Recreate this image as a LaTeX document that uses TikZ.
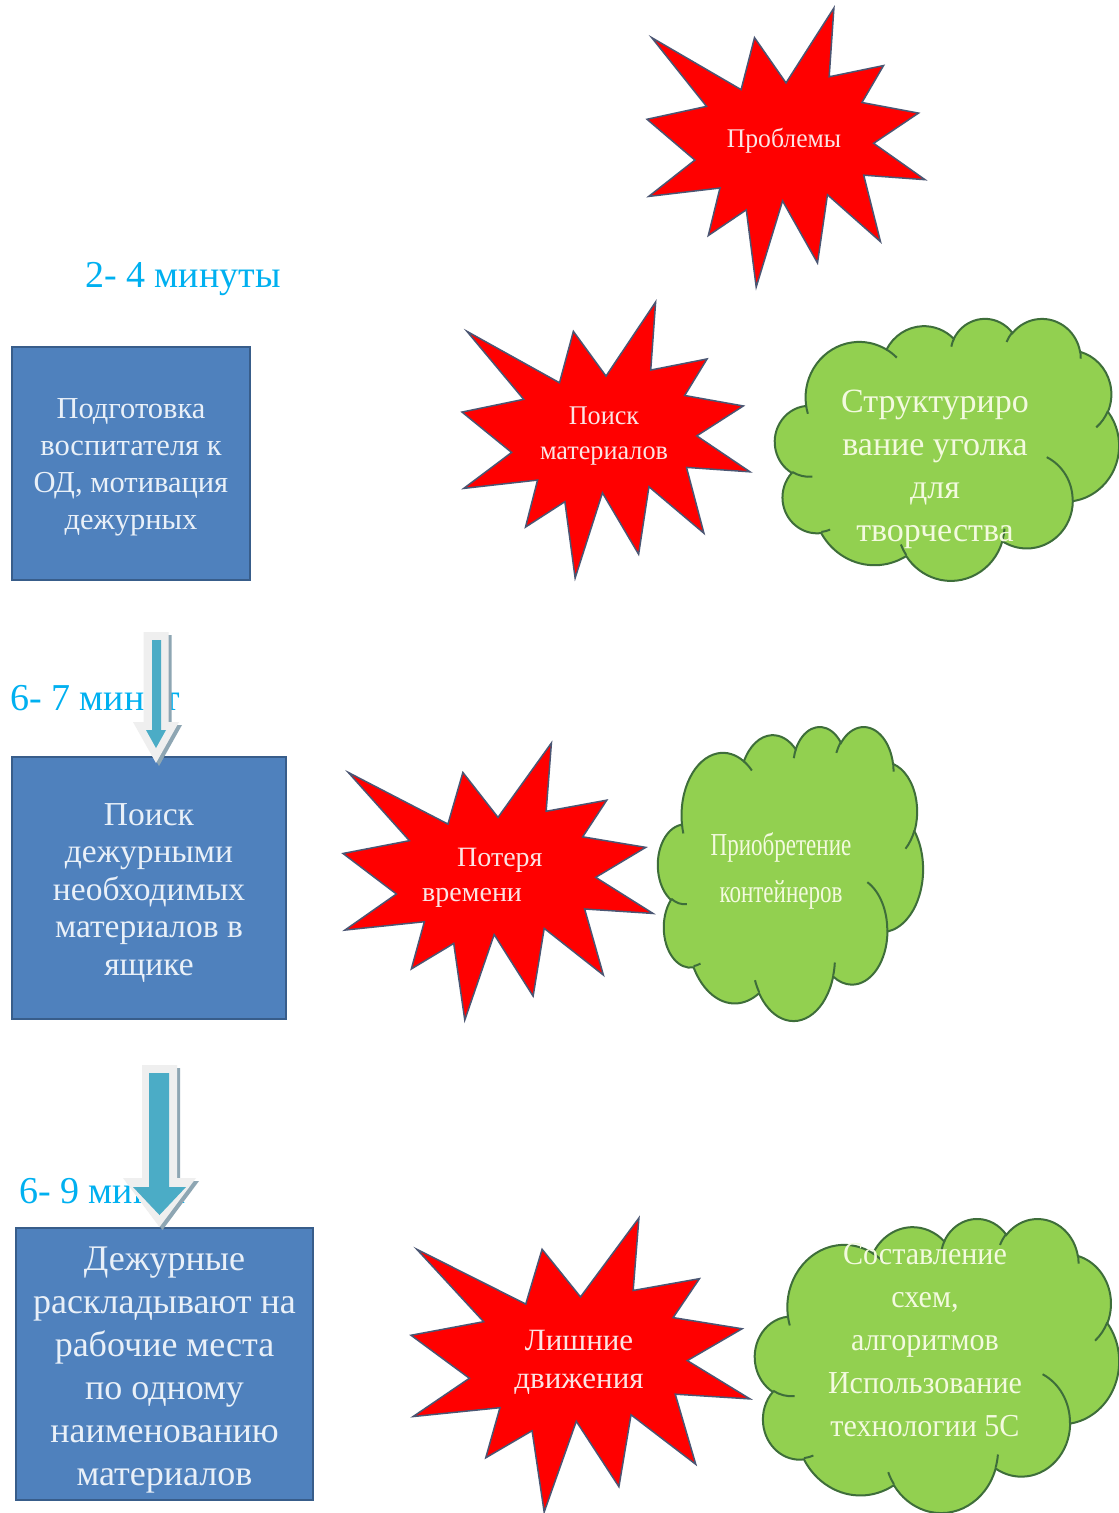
\documentclass[tikz,border=0pt]{standalone}
\usepackage{fontspec}
\setmainfont{Liberation Serif}
\definecolor{boxfill}{HTML}{4F81BD}
\definecolor{boxline}{HTML}{385D8A}
\definecolor{boxtext}{HTML}{E9F0F8}
\definecolor{starfill}{HTML}{FF0000}
\definecolor{starline}{HTML}{4A5673}
\definecolor{startext}{HTML}{FCE4E4}
\definecolor{cloudfill}{HTML}{92D050}
\definecolor{cloudline}{HTML}{3E6E3A}
\definecolor{cloudtext}{HTML}{F3FADF}
\definecolor{lblcol}{HTML}{00B0F0}
\definecolor{arrfill}{HTML}{4BACC6}
\definecolor{arrband}{HTML}{EFEFEF}
\definecolor{arrshadow}{HTML}{8EA6B3}
\makeatletter
\newcommand\cldpar[4]{%
  \pgfmathparse{atan2((#2)*sin(#4),(#3)*cos(#4))}%
  \let\cld@t\pgfmathresult
  \pgfmathparse{\cld@t+360*round(((#4)-\cld@t)/360)}%
  \expandafter\xdef\csname #1\endcsname{\pgfmathresult}}
\makeatother
\newcommand\explosion[4]{%
 \filldraw[starshape] ({#1+0.5*#3},{#2+0.2685*#4}) -- ({#1+0.6723*#3},{#2}) -- ({#1+0.6553*#3},{#2+0.2465*#4})
 -- ({#1+0.8509*#3},{#2+0.2063*#4}) -- ({#1+0.7732*#3},{#2+0.3387*#4}) -- ({#1+0.9767*#3},{#2+0.3767*#4})
 -- ({#1+0.8151*#3},{#2+0.4850*#4}) -- ({#1+#3},{#2+0.6153*#4}) -- ({#1+0.7795*#3},{#2+0.5992*#4})
 -- ({#1+0.8400*#3},{#2+0.8377*#4}) -- ({#1+0.6491*#3},{#2+0.6693*#4}) -- ({#1+0.6133*#3},{#2+0.9138*#4})
 -- ({#1+0.4876*#3},{#2+0.6914*#4}) -- ({#1+0.3928*#3},{#2+#4}) -- ({#1+0.3572*#3},{#2+0.7235*#4})
 -- ({#1+0.2205*#3},{#2+0.8156*#4}) -- ({#1+0.2624*#3},{#2+0.6452*#4}) -- ({#1+0.00625*#3},{#2+0.6753*#4})
 -- ({#1+0.1723*#3},{#2+0.5451*#4}) -- ({#1},{#2+0.3988*#4}) -- ({#1+0.2142*#3},{#2+0.3526*#4})
 -- ({#1+0.0171*#3},{#2+0.1063*#4}) -- ({#1+0.3385*#3},{#2+0.2926*#4}) -- ({#1+0.3867*#3},{#2+0.1063*#4})
 -- cycle;}
\newcommand\officecloud[4]{%
 \pgfmathsetmacro\cux{#3/4320}%
 \pgfmathsetmacro\cuy{#4/4320}%
 \draw[cloudshape] ({#1+390*\cux},{#2+1437*\cuy})
 arc[start angle={-(\cAs)}, end angle={-(\cAe)}, x radius={675.3*\cux*1pt}, y radius={919.0*\cuy*1pt}]
 arc[start angle={-(\cBs)}, end angle={-(\cBe)}, x radius={533.3*\cux*1pt}, y radius={726.7*\cuy*1pt}]
 arc[start angle={-(\cCs)}, end angle={-(\cCe)}, x radius={436.5*\cux*1pt}, y radius={594.5*\cuy*1pt}]
 arc[start angle={-(\cDs)}, end angle={-(\cDe)}, x radius={485.7*\cux*1pt}, y radius={659.5*\cuy*1pt}]
 arc[start angle={-(\cEs)}, end angle={-(\cEe)}, x radius={533.3*\cux*1pt}, y radius={727.3*\cuy*1pt}]
 arc[start angle={-(\cFs)}, end angle={-(\cFe)}, x radius={677.5*\cux*1pt}, y radius={922.0*\cuy*1pt}]
 arc[start angle={-(\cGs)}, end angle={-(\cGe)}, x radius={578.5*\cux*1pt}, y radius={786.7*\cuy*1pt}]
 arc[start angle={-(\cHs)}, end angle={-(\cHe)}, x radius={675.2*\cux*1pt}, y radius={921.5*\cuy*1pt}]
 arc[start angle={-(\cIs)}, end angle={-(\cIe)}, x radius={772.0*\cux*1pt}, y radius={1054.3*\cuy*1pt}]
 arc[start angle={-(\cJs)}, end angle={-(\cJe)}, x radius={436.0*\cux*1pt}, y radius={591.8*\cuy*1pt}]
 arc[start angle={-(\cKs)}, end angle={-(\cKe)}, x radius={434.5*\cux*1pt}, y radius={594.5*\cuy*1pt}]
 -- cycle;
 \draw[crease]
 ({#1+469.3*\cux},{#2+2617.7*\cuy}) arc[start angle={-(\pAs)}, end angle={-(\pAe)}, x radius={434.5*\cux*1pt}, y radius={594.5*\cuy*1pt}]
 ({#1+692.8*\cux},{#2+3489.9*\cuy}) arc[start angle={-(\pBs)}, end angle={-(\pBe)}, x radius={436.0*\cux*1pt}, y radius={591.8*\cuy*1pt}]
 ({#1+1647.8*\cux},{#2+3909.0*\cuy}) arc[start angle={-(\pCs)}, end angle={-(\pCe)}, x radius={675.2*\cux*1pt}, y radius={921.5*\cuy*1pt}]
 ({#1+2882.7*\cux},{#2+3475.1*\cuy}) arc[start angle={-(\pDs)}, end angle={-(\pDe)}, x radius={675.2*\cux*1pt}, y radius={921.5*\cuy*1pt}]
 ({#1+3412.9*\cux},{#2+2295.4*\cuy}) arc[start angle={-(\pEs)}, end angle={-(\pEe)}, x radius={578.5*\cux*1pt}, y radius={786.7*\cuy*1pt}]
 ({#1+4179.8*\cux},{#2+1535.4*\cuy}) arc[start angle={-(\pFs)}, end angle={-(\pFe)}, x radius={533.3*\cux*1pt}, y radius={727.3*\cuy*1pt}]
 ({#1+3832.4*\cux},{#2+542.6*\cuy}) arc[start angle={-(\pGs)}, end angle={-(\pGe)}, x radius={485.7*\cux*1pt}, y radius={659.5*\cuy*1pt}]
 ({#1+2907.8*\cux},{#2+395.2*\cuy}) arc[start angle={-(\pHs)}, end angle={-(\pHe)}, x radius={485.7*\cux*1pt}, y radius={659.5*\cuy*1pt}]
 ({#1+2214.1*\cux},{#2+472.0*\cuy}) arc[start angle={-(\pIs)}, end angle={-(\pIe)}, x radius={436.5*\cux*1pt}, y radius={594.5*\cuy*1pt}]
 ({#1+1400.0*\cux},{#2+519.2*\cuy}) arc[start angle={-(\pJs)}, end angle={-(\pJe)}, x radius={675.3*\cux*1pt}, y radius={919.0*\cuy*1pt}]
 ({#1+412.7*\cux},{#2+1578.9*\cuy}) arc[start angle={-(\pKs)}, end angle={-(\pKe)}, x radius={675.3*\cux*1pt}, y radius={919.0*\cuy*1pt}];
}
\begin{document}
\begin{tikzpicture}[x=1pt,y=-1pt,
  boxnode/.style={draw=boxline, line width=2pt, fill=boxfill, inner sep=0pt},
  boxtxt/.style={text=boxtext, align=center, inner sep=0pt},
  starshape/.style={fill=starfill, draw=starline, line width=1.5pt, line join=miter},
  cloudshape/.style={fill=cloudfill, draw=cloudline, line width=2pt},
  crease/.style={draw=cloudline, line width=2pt},
  sttext/.style={text=startext, align=center, inner sep=0pt},
  cltext/.style={text=cloudtext, align=center, inner sep=0pt},
  lbl/.style={text=lblcol, anchor=base west, inner sep=0pt, font=\fontsize{38}{42}\selectfont},
  arrband/.style={fill=arrband},
  arrshadow/.style={fill=arrshadow},
  arrcore/.style={fill=arrfill}]
\cldpar{cAs}{6753}{9190}{-190.487483}\cldpar{cAe}{6753}{9190}{-190.487483+123.780533}
\cldpar{cBs}{5333}{7267}{-144.102383}\cldpar{cBe}{5333}{7267}{-144.102383+89.945233}
\cldpar{cCs}{4365}{5945}{-145.807917}\cldpar{cCe}{4365}{5945}{-145.807917+99.723017}
\cldpar{cDs}{4857}{6595}{-130.986067}\cldpar{cDe}{4857}{6595}{-130.986067+117.241733}
\cldpar{cEs}{5333}{7273}{-78.708883}\cldpar{cEe}{5333}{7273}{-78.708883+109.026917}
\cldpar{cFs}{6775}{9220}{-46.26725}\cldpar{cFe}{6775}{9220}{-46.26725+130.269}
\cldpar{cGs}{5785}{7867}{0.625017}\cldpar{cGe}{5785}{7867}{0.625017+114.033333}
\cldpar{cHs}{6752}{9215}{22.4516}\cldpar{cHe}{6752}{9215}{22.4516+115.17255}
\cldpar{cIs}{7720}{10543}{66.242633}\cldpar{cIe}{7720}{10543}{66.242633+75.711017}
\cldpar{cJs}{4360}{5918}{-274.942083}\cldpar{cJe}{4360}{5918}{-274.942083+146.735567}
\cldpar{cKs}{4345}{5945}{-246.8285}\cldpar{cKe}{4345}{5945}{-246.8285+152.51885}
\cldpar{pAs}{4345}{5945}{86.742}\cldpar{pAe}{4345}{5945}{86.742+26.4295}
\cldpar{pBs}{4360}{5918}{73.6105}\cldpar{pBe}{4360}{5918}{73.6105+11.4475}
\cldpar{pCs}{6752}{9215}{137.6241}\cldpar{pCe}{6752}{9215}{137.6241+14.0811}
\cldpar{pDs}{6752}{9215}{6.4533}\cldpar{pDe}{6752}{9215}{6.4533+15.9984}
\cldpar{pEs}{5785}{7867}{-70.2924}\cldpar{pEe}{5785}{7867}{-70.2924+70.9174}
\cldpar{pFs}{5333}{7273}{30.318}\cldpar{pFe}{5333}{7273}{30.318+27.7515}
\cldpar{pGs}{4857}{6595}{-13.7443}\cldpar{pGe}{4857}{6595}{-13.7443+14.8589}
\cldpar{pHs}{4857}{6595}{-149.1815}\cldpar{pHe}{4857}{6595}{-149.1815+18.1954}
\cldpar{pIs}{4365}{5945}{-163.4943}\cldpar{pIe}{4365}{5945}{-163.4943+17.6864}
\cldpar{pJs}{6753}{9190}{-66.707}\cldpar{pJe}{6753}{9190}{-66.707+12.3194}
\cldpar{pKs}{6753}{9190}{157.6544}\cldpar{pKe}{6753}{9190}{157.6544+11.8582}

\fill[white] (0,0) rectangle (1119,1513);
\useasboundingbox (0,0) rectangle (1119,1513);

% time labels
\node[lbl] (lab1) at (85,287) {2- 4 минуты};
\node[lbl] (lab2) at (10,710) {6- 7 минут};
\node[lbl] (lab3) at (19,1203) {6- 9 минут};

% left boxes
\node[boxnode, minimum width=238, minimum height=233] (b1) at (131,463.5) {};
\node[boxtxt, font=\fontsize{30.5}{37}\selectfont] (b1t) at (131,467.5)
  {Подготовка\\воспитателя к\\ОД, мотивация\\дежурных};
\node[boxnode, minimum width=274, minimum height=262] (b2) at (149,888) {};
\node[boxtxt, font=\fontsize{33.5}{37.5}\selectfont] (b2t) at (149,893)
  {Поиск\\дежурными\\необходимых\\материалов в\\ящике};
\node[boxnode, minimum width=297, minimum height=272] (b3) at (164.5,1364) {};
\node[boxtxt, font=\fontsize{36}{43}\selectfont] (b3t) at (164.5,1370)
  {Дежурные\\раскладывают на\\рабочие места\\по одному\\наименованию\\материалов};

% arrows
\fill[arrshadow] (146.5,635) -- (171.5,635) -- (171.5,725) -- (182,725) -- (159,766) -- (136,725) -- (146.5,725) -- cycle;
\fill[arrband] (143.5,632) -- (168.5,632) -- (168.5,722) -- (179,722) -- (156,763) -- (133,722) -- (143.5,722) -- cycle;
\fill[arrcore] (152,640) -- (161,640) -- (161,730) -- (166,730) -- (156,748) -- (146,730) -- (152,730) -- cycle;

\fill[arrshadow] (145,1068) -- (180,1068) -- (180,1181) -- (199,1181) -- (162.5,1230) -- (126,1181) -- (145,1181) -- cycle;
\fill[arrband] (142,1065) -- (177,1065) -- (177,1178) -- (196,1178) -- (159.5,1227) -- (123,1178) -- (142,1178) -- cycle;
\fill[arrcore] (149,1073) -- (169,1073) -- (169,1187) -- (186,1187) -- (159.5,1215) -- (133,1187) -- (149,1187) -- cycle;

% explosions
\explosion{647}{8}{278}{279}
\node[sttext, font=\fontsize{27}{33}\selectfont, xscale=0.95] (s1) at (784,141) {Проблемы};
\explosion{462}{302}{288}{276}
\node[sttext, font=\fontsize{27}{35}\selectfont, xscale=0.97] (s2) at (604,436) {Поиск\\материалов};
\explosion{343}{743}{310}{277}
\node[sttext, align=left, anchor=west, font=\fontsize{28}{35}\selectfont] (s3) at (422,878) {\hspace*{35pt}Потеря\\времени};
\explosion{411}{1218}{339}{294}
\node[sttext, font=\fontsize{31}{38}\selectfont] (s4) at (579,1362) {Лишние\\движения};

% clouds
\officecloud{775}{318}{344}{262}
\node[cltext, font=\fontsize{34}{43}\selectfont] (c1) at (935,469) {Структуриро\\вание уголка\\для\\творчества};
\officecloud{658}{726}{265}{294}
\node[cltext, font=\fontsize{32}{47}\selectfont, xscale=0.72] (c2) at (781,871) {Приобретение\\контейнеров};
\officecloud{755}{1218}{364}{294}
\node[cltext, font=\fontsize{32}{43}\selectfont, xscale=0.94] (c3) at (925,1340) {Составление\\схем,\\алгоритмов\\Использование\\технологии 5С};
\end{tikzpicture}
\end{document}
